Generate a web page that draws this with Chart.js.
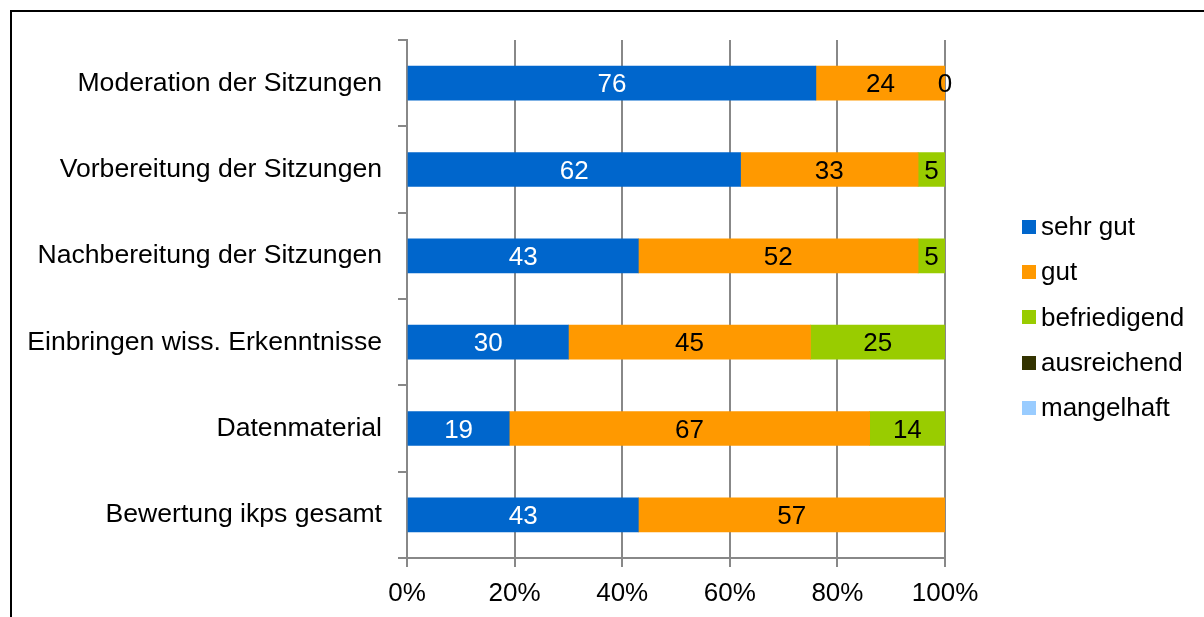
<!DOCTYPE html>
<html>
<head>
<meta charset="utf-8">
<script src="https://cdn.jsdelivr.net/npm/chart.js@4.4.0/dist/chart.umd.min.js"></script>
<style>
  html, body { margin: 0; padding: 0; background: #fff; overflow: hidden; }
  .wrap { position: relative; width: 1204px; height: 617px; }
  .frame { position: absolute; left: 10px; top: 10px; width: 1400px; height: 800px; border: 2px solid #000; box-sizing: border-box; }
  canvas { position: absolute; left: 0; top: 0; }
  .legend { position: absolute; left: 1022px; top: 204px; font: 26px "Liberation Sans", Arial, sans-serif; color: #000; }
  .legend div { height: 45.3px; display: flex; align-items: center; white-space: nowrap; }
  .legend span.box { display: inline-block; width: 14px; height: 14px; margin-right: 5px; }
</style>
</head>
<body>
<div class="wrap">
  <div class="frame"></div>
  <canvas id="chart" width="1204" height="617"></canvas>
  <div class="legend" id="legend"></div>
</div>
<script>
const categories = [
  "Moderation der Sitzungen",
  "Vorbereitung der Sitzungen",
  "Nachbereitung der Sitzungen",
  "Einbringen wiss. Erkenntnisse",
  "Datenmaterial",
  "Bewertung ikps gesamt"
];
const seriesNames = ["sehr gut", "gut", "befriedigend", "ausreichend", "mangelhaft"];
const sehrGut      = [76, 62, 43, 30, 19, 43];
const gut          = [24, 33, 52, 45, 67, 57];
const befriedigend = [0, 5, 5, 25, 14, null];
const ausreichend  = [null, null, null, null, null, null];
const mangelhaft   = [null, null, null, null, null, null];
const xTicks = [0, 20, 40, 60, 80, 100];
const colors = ["#0066CC", "#FF9900", "#99CC00", "#333300", "#99CCFF"];
const labelColors = ["#fff", "#000", "#000", "#000", "#000"];

const FONT = "Liberation Sans";

// draws the numbers in the middle of each segment
const valueLabels = {
  id: "valueLabels",
  afterDatasetsDraw(chart) {
    const ctx = chart.ctx;
    ctx.save();
    ctx.font = "26px " + FONT;
    ctx.textAlign = "center";
    ctx.textBaseline = "middle";
    chart.data.datasets.forEach((ds, i) => {
      const meta = chart.getDatasetMeta(i);
      meta.data.forEach((el, j) => {
        const v = ds.data[j];
        if (v === null || v === undefined) return;
        ctx.fillStyle = labelColors[i];
        ctx.fillText(String(v), (el.x + el.base) / 2, el.y + 2);
      });
    });
    ctx.restore();
  }
};

const allSeries = [sehrGut, gut, befriedigend, ausreichend, mangelhaft];

new Chart(document.getElementById("chart"), {
  type: "bar",
  data: {
    labels: categories,
    datasets: seriesNames.map((name, i) => ({
      label: name,
      data: allSeries[i],
      backgroundColor: colors[i],
      borderWidth: 0,
      barThickness: 34
    }))
  },
  options: {
    indexAxis: "y",
    responsive: false,
    animation: false,
    layout: { padding: { left: 0, right: 259, top: 40, bottom: 0 } },
    plugins: {
      legend: { display: false },
      tooltip: { enabled: false }
    },
    scales: {
      x: {
        stacked: true,
        min: 0,
        max: 100,
        afterBuildTicks: (axis) => { axis.ticks = xTicks.map(v => ({ value: v })); },
        afterFit: (axis) => { axis.height = 59; },
        ticks: {
          callback: (v) => v + "%",
          color: "#000",
          font: { family: FONT, size: 26 },
          padding: 11,
          maxRotation: 0
        },
        grid: { color: "#888", lineWidth: 2, tickLength: 9 },
        border: { color: "#888", width: 2 }
      },
      y: {
        stacked: true,
        afterFit: (axis) => { axis.width = 407; },
        ticks: {
          color: "#000",
          font: { family: FONT, size: 26.6 },
          padding: 16
        },
        grid: { drawOnChartArea: false, color: "#888", lineWidth: 2, tickLength: 9, offset: true },
        border: { color: "#888", width: 2 }
      }
    }
  },
  plugins: [valueLabels]
});

const legendEl = document.getElementById("legend");
seriesNames.forEach((name, i) => {
  const row = document.createElement("div");
  const box = document.createElement("span");
  box.className = "box";
  box.style.backgroundColor = colors[i];
  row.appendChild(box);
  row.appendChild(document.createTextNode(name));
  legendEl.appendChild(row);
});
</script>
</body>
</html>
